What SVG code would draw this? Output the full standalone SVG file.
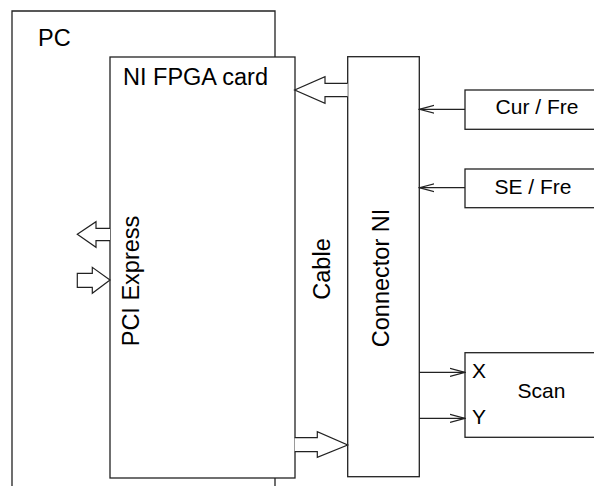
<svg xmlns="http://www.w3.org/2000/svg" width="594" height="486" viewBox="0 0 594 486">
<defs>
<style>
.box{fill:#fff;stroke:#222;stroke-width:1.3}
.ln{fill:none;stroke:#222;stroke-width:1.2}
.big{fill:#fff;stroke:#222;stroke-width:1.2;stroke-linejoin:miter}
text{font-family:"Liberation Sans",Arial,sans-serif;font-size:21px;fill:#000}
.lg{font-size:23.5px}
</style>
<marker id="oa" viewBox="0 0 16 10" refX="15" refY="5" markerWidth="16" markerHeight="10" markerUnits="userSpaceOnUse" orient="auto">
<path d="M0,1 L15,5 L0,9" fill="none" stroke="#222" stroke-width="1.2"/>
</marker>
</defs>
<g id="pc">
<path class="box" d="M12,486 V11 H275 V486" fill="none"/>
<text class="lg" x="38" y="46">PC</text>
</g>
<g id="fpga">
<rect class="box" x="110" y="57" width="185" height="421"/>
<text class="lg" x="123" y="85">NI FPGA card</text>
<text class="lg" transform="translate(138.5,281) rotate(-90)" text-anchor="middle">PCI Express</text>
</g>
<g id="cable">
<text class="lg" transform="translate(330,269) rotate(-90)" text-anchor="middle">Cable</text>
</g>
<g id="connector">
<rect class="box" x="347.7" y="56.7" width="71.6" height="420"/>
<text class="lg" transform="translate(388.5,278) rotate(-90)" text-anchor="middle">Connector NI</text>
</g>
<g id="curfre">
<rect class="box" x="465" y="90" width="140" height="39.3"/>
<text x="537" y="114" text-anchor="middle">Cur / Fre</text>
</g>
<g id="sefre">
<rect class="box" x="465" y="169" width="140" height="38.7"/>
<text x="533" y="193.5" text-anchor="middle">SE / Fre</text>
</g>
<g id="scan">
<rect class="box" x="465" y="352.7" width="140" height="84.6"/>
<text x="472" y="378">X</text>
<text x="472" y="424">Y</text>
<text x="541.5" y="398" text-anchor="middle">Scan</text>
</g>
<g id="connectors">
<path class="big" d="M347.7,83.3 H325 V76.7 L294.7,90 L325,103.3 V96.7 H347.7"/>
<path class="big" d="M294.7,437.7 H317.3 V431.7 L347.7,445 L317.3,457.3 V451.7 H294.7"/>
<path class="big" d="M110,228.3 H96 V221.7 L77.3,234.3 L96,247.3 V240.7 H110"/>
<path class="big" d="M77.3,273.3 H92.3 V267.3 L110,280 L92.3,293.3 V287.3 H77.3 Z"/>
<line class="ln" x1="465" y1="109.3" x2="419.3" y2="109.3" marker-end="url(#oa)"/>
<line class="ln" x1="465" y1="187.7" x2="419.3" y2="187.7" marker-end="url(#oa)"/>
<line class="ln" x1="419.3" y1="372.3" x2="465" y2="372.3" marker-end="url(#oa)"/>
<line class="ln" x1="419.3" y1="418.3" x2="465" y2="418.3" marker-end="url(#oa)"/>
</g>
</svg>
